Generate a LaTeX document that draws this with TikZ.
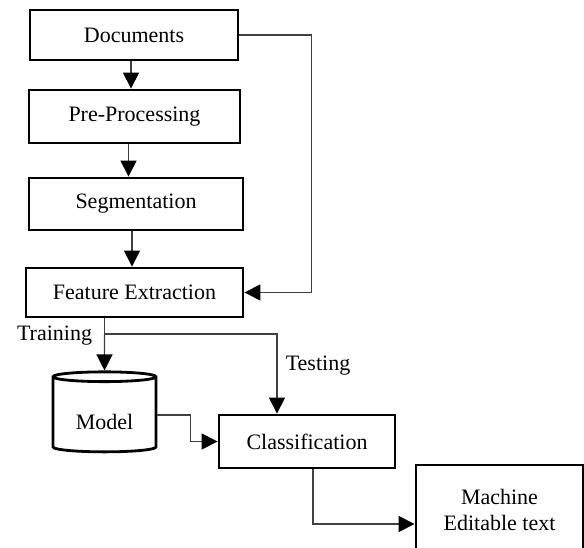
\documentclass[tikz,border=0pt]{standalone}
\usepackage{fontspec}
\setmainfont{Liberation Serif}
\usetikzlibrary{arrows.meta,shapes.geometric}
\begin{document}
\begin{tikzpicture}[x=1pt,y=-1pt,
  box/.style={draw,line width=2.8pt,inner sep=0pt,align=center,font=\fontsize{22}{26}\selectfont},
  db/.style={cylinder,shape border rotate=90,aspect=0.17,draw,line width=2.8pt,inner sep=0pt,font=\fontsize{22}{26}\selectfont},
  lbl/.style={inner sep=0pt,font=\fontsize{22}{26}\selectfont},
  conn/.style={draw=black!75,line width=1.2pt},
  arr/.style={conn,-{Triangle[width=16pt,length=16pt,color=black]}}]
\useasboundingbox (0,0) rectangle (584,548);
\clip (0,0) rectangle (584,548);
\node [box,minimum width=208pt,minimum height=50pt] (docs) at (134,35) {Documents};
\node [box,minimum width=211pt,minimum height=53pt] (pre) at (134.5,116.5) {Pre-Processing};
\node [box,minimum width=214pt,minimum height=52pt] (seg) at (136,204) {Segmentation};
\node [box,minimum width=217pt,minimum height=49pt] (fe) at (134.5,292.5) {Feature Extraction};
\node [db,minimum width=103pt,minimum height=80pt] (model) at (104.5,415) {\raisebox{-7pt}[\height][0pt]{Model}};
\node [box,minimum width=176pt,minimum height=53pt] (cls) at (307,441.5) {Classification};
\node [box,minimum width=167pt,minimum height=90pt] (mach) at (499.5,510) {Machine\\Editable text};
\coordinate (split) at (104.5,334);
\node [lbl] (train) at (54.5,336) {Training};
\node [lbl] (test) at (318,366) {Testing};
% main flow
\draw [arr] ([xshift=-3pt]docs.south) -- ([xshift=-3pt]docs.south |- pre.north);
\draw [arr] ([xshift=-6pt]pre.south) -- ([xshift=-6pt]pre.south |- seg.north);
\draw [arr] ([xshift=-4pt]seg.south) -- ([xshift=-4pt]seg.south |- fe.north);
\draw [arr] (docs.east) -- ++(72,0) |- (fe.east);
% training / testing
\draw [conn] (fe.south -| split) -- (split);
\draw [arr] (split) -- (model.north);
\draw [arr] (split) -| ([xshift=-30pt]cls.north);
\draw [arr] (model.east) -- ++(33,0) |- (cls.west);
\draw [arr] ([xshift=6pt]cls.south) |- ([yshift=-14pt]mach.west);
\end{tikzpicture}
\end{document}
